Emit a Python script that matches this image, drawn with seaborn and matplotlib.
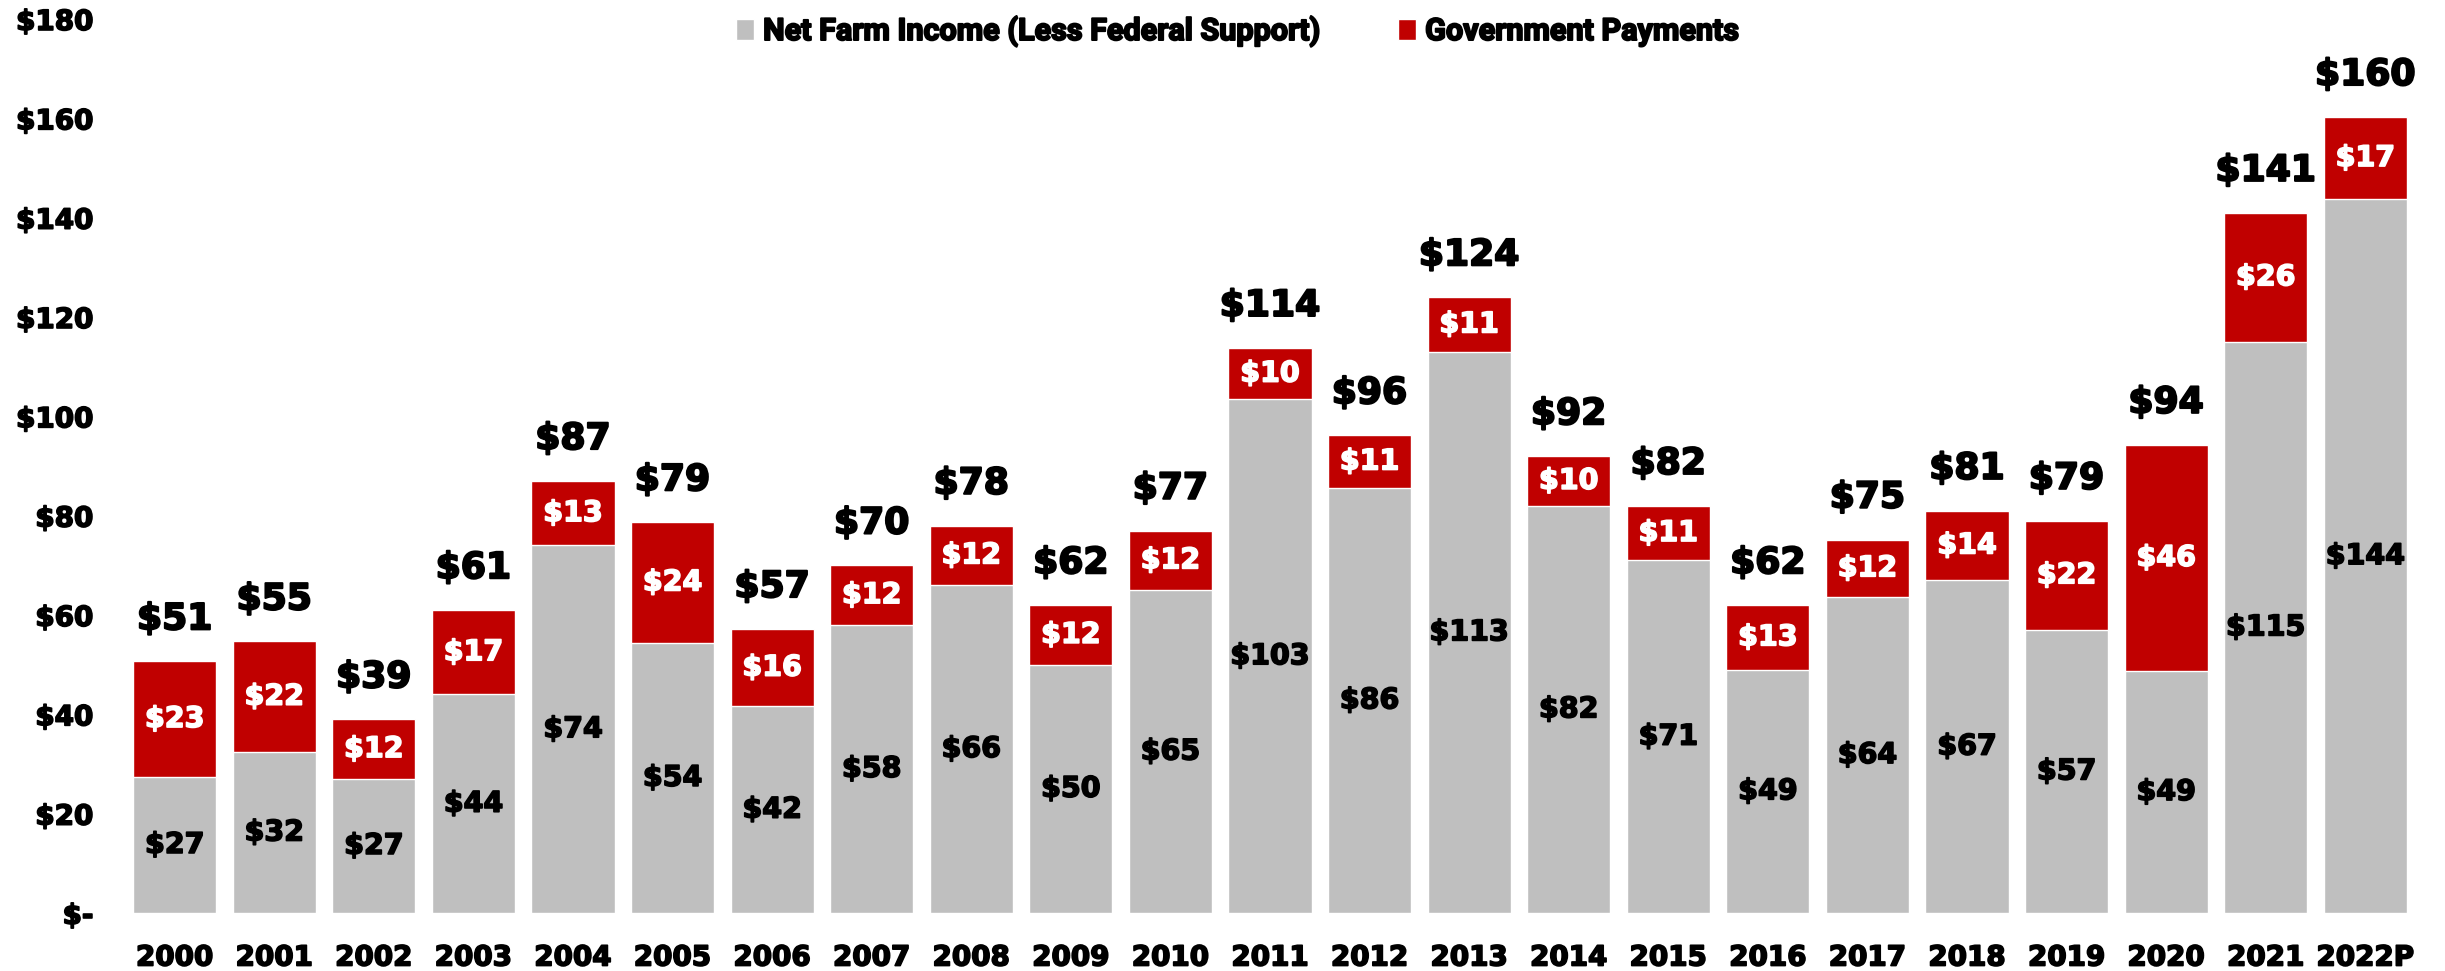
import numpy as np
import pandas as pd
import matplotlib
matplotlib.use("Agg")
import matplotlib.pyplot as plt
import matplotlib.patheffects as pe
import seaborn as sns
from matplotlib.ticker import FuncFormatter

years = ["2000", "2001", "2002", "2003", "2004", "2005", "2006", "2007", "2008",
         "2009", "2010", "2011", "2012", "2013", "2014", "2015", "2016", "2017",
         "2018", "2019", "2020", "2021", "2022P"]
# billions of dollars
net_income = [27.4, 32.4, 27.0, 44.0, 74.0, 54.4, 41.6, 58.0, 66.0, 50.0, 65.0, 103.4,
              85.6, 113.0, 82.0, 71.0, 49.0, 63.6, 67.0, 57.0, 48.7, 115.0, 143.7]
gov_payments = [23.3, 22.3, 12.0, 17.0, 13.0, 24.3, 15.6, 12.0, 12.0, 12.0, 12.0, 10.4,
                10.6, 11.0, 10.0, 11.0, 13.0, 11.6, 14.0, 22.0, 45.6, 26.0, 16.6]

GRAY = "#BFBFBF"
RED = "#C00000"

df = pd.DataFrame({"year": years, "net": net_income, "gov": gov_payments})
df["total"] = df["net"] + df["gov"]

sns.set_theme(style="white")
plt.rcParams["font.family"] = ["DejaVu Sans"]
plt.rcParams["font.weight"] = "bold"
plt.rcParams["text.color"] = "black"
plt.rcParams["xtick.color"] = "black"
plt.rcParams["ytick.color"] = "black"

def heavy(color, lw=1.2):
    # thicken glyphs a bit, reference uses a very heavy face
    return [pe.withStroke(linewidth=lw, foreground=color)]

fig = plt.figure(figsize=(24.45, 9.71), dpi=100)
ax = fig.add_axes([110 / 2445, 58 / 971, 2330 / 2445, 894 / 971])

# stacked bars: draw totals in red, gray base on top of them
sns.barplot(data=df, x="year", y="total", color=RED, saturation=1, width=0.835,
            ax=ax, label="Government Payments")
sns.barplot(data=df, x="year", y="net", color=GRAY, saturation=1, width=0.835,
            ax=ax, label="Net Farm Income (Less Federal Support)")
handles, labels = ax.get_legend_handles_labels()
if ax.get_legend() is not None:
    ax.get_legend().remove()

for i, row in df.iterrows():
    ax.text(i, row["net"] / 2, f"${row['net']:.0f}", ha="center", va="center",
            fontsize=20.5, color="black", fontweight="bold", path_effects=heavy("black"))
    ax.text(i, row["net"] + row["gov"] / 2, f"${row['gov']:.0f}", ha="center",
            va="center", fontsize=20.5, color="white", fontweight="bold",
            path_effects=heavy("white"))
    ax.text(i, row["total"] + 5.0, f"${row['total']:.0f}", ha="center",
            va="bottom", fontsize=26, color="black", fontweight="bold",
            path_effects=heavy("black", 1.5))

ax.set_ylim(0, 180)
ax.set_xlim(-0.65, 22.75)
ax.set_yticks(np.arange(0, 181, 20))
ax.yaxis.set_major_formatter(FuncFormatter(lambda v, p: "$-" if v == 0 else f"${v:.0f}"))
ax.set_xlabel("")
ax.set_ylabel("")
ax.tick_params(axis="y", length=0, pad=12, labelsize=20, labelcolor="black")
ax.tick_params(axis="x", length=0, pad=22, labelsize=20, labelcolor="black")
for lab in ax.get_xticklabels() + ax.get_yticklabels():
    lab.set_fontweight("bold")
    lab.set_path_effects(heavy("black"))
sns.despine(ax=ax, left=True, bottom=True)

handles, labels = handles[::-1], labels[::-1]
leg = fig.legend(handles, labels, loc="center", bbox_to_anchor=(0.506, 0.968), ncol=2,
                 frameon=False, handlelength=0.6, handleheight=0.7,
                 handletextpad=0.3, columnspacing=2.55, labelcolor="black",
                 prop={"family": ["Roboto", "DejaVu Sans"], "weight": "bold", "size": 22})
for t in leg.get_texts():
    t.set_path_effects(heavy("black", 1.4))

fig.savefig("out.png", dpi=100)
